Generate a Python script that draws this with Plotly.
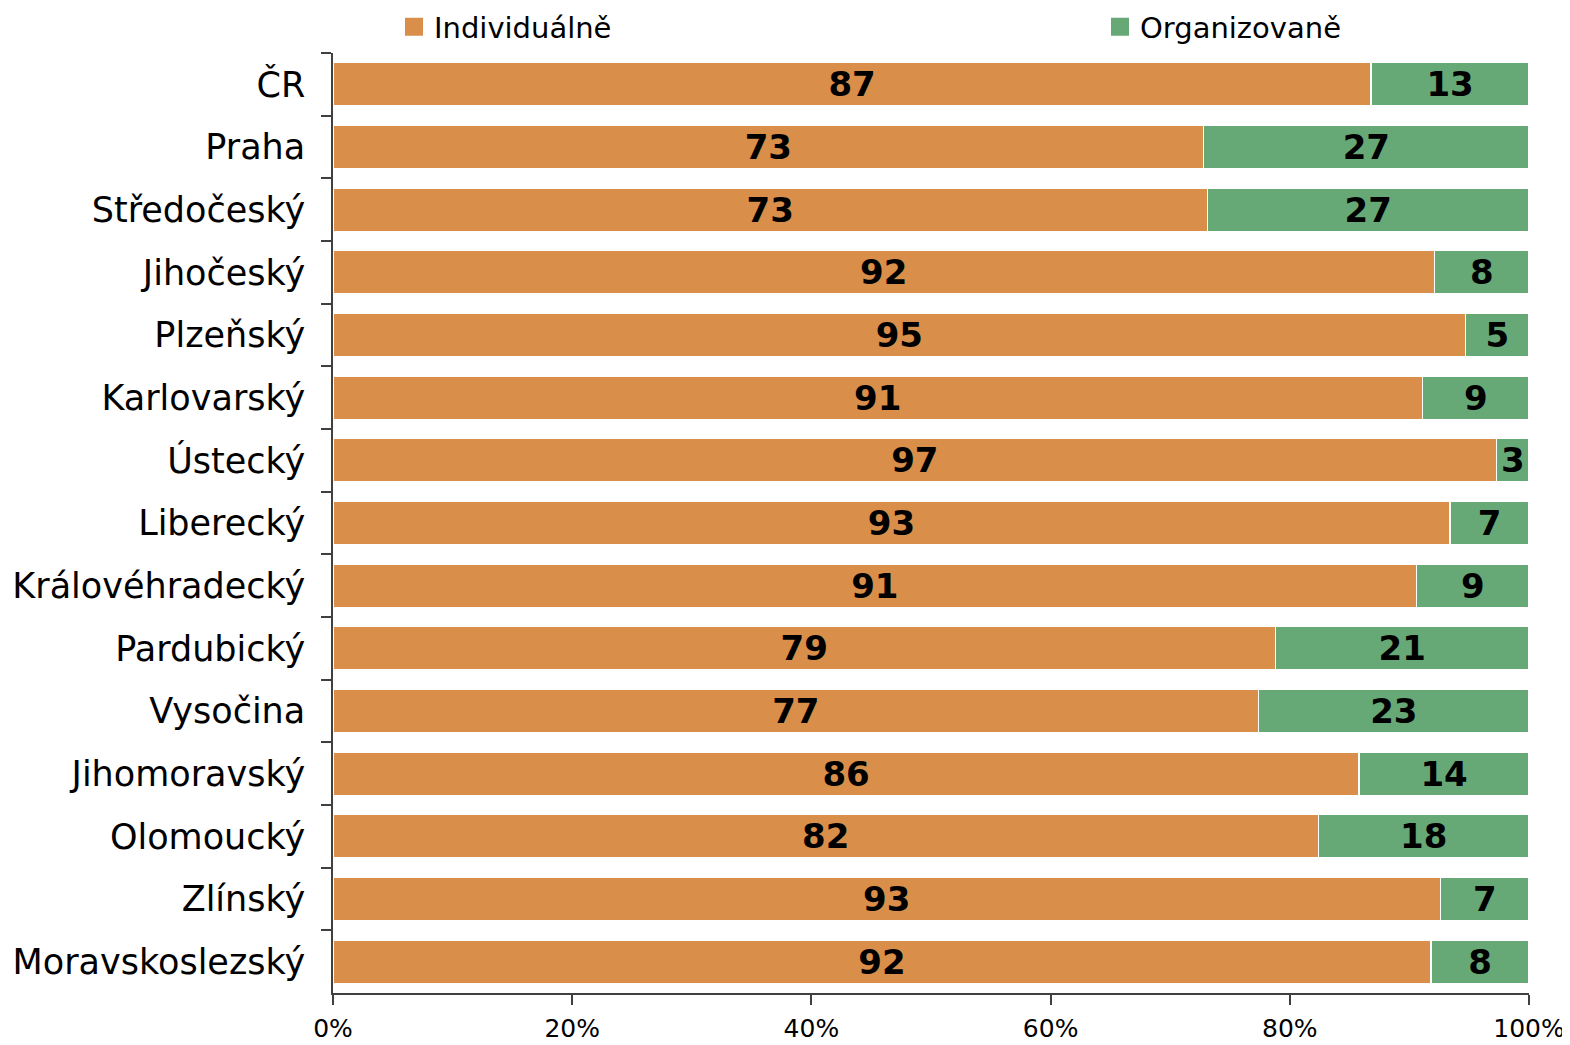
import plotly.graph_objects as go

regions = ["ČR", "Praha", "Středočeský", "Jihočeský", "Plzeňský", "Karlovarský", "Ústecký",
           "Liberecký", "Královéhradecký", "Pardubický", "Vysočina", "Jihomoravský",
           "Olomoucký", "Zlínský", "Moravskoslezský"]
individualne = [86.8, 72.8, 73.1, 92.1, 94.7, 91.1, 97.3, 93.4, 90.6, 78.8, 77.4, 85.8, 82.4, 92.6, 91.8]
organizovane = [13.2, 27.2, 26.9, 7.9, 5.3, 8.9, 2.7, 6.6, 9.4, 21.2, 22.6, 14.2, 17.6, 7.4, 8.2]
x_ticks = [0, 20, 40, 60, 80, 100]
x_tick_labels = ["0%", "20%", "40%", "60%", "80%", "100%"]

C_IND = "#D98E4A"
C_ORG = "#67A877"
FONT = "DejaVu Sans"

W, H = 1562, 1037

fig = go.Figure()
series = [("Individuálně", individualne, C_IND, "legend"),
          ("Organizovaně", organizovane, C_ORG, "legend2")]
for name, vals, col, leg in series:
    fig.add_trace(go.Bar(
        y=regions, x=vals, orientation="h", name=name,
        marker=dict(color=col, line=dict(color="white", width=1.5)),
        text=[str(round(v)) for v in vals], textposition="inside",
        insidetextanchor="middle", constraintext="none", textangle=0,
        textfont=dict(family=FONT, size=34, color="black", weight="bold"),
        showlegend=False, hoverinfo="skip",
    ))
    fig.add_trace(go.Scatter(
        x=[None], y=[None], mode="markers", name=name, legend=leg,
        marker=dict(symbol="square", size=16, color=col, line=dict(color=col, width=2)),
    ))

leg_common = dict(orientation="h", xref="container", yref="container",
                  y=1 - 19 / H, xanchor="left", yanchor="middle", itemsizing="trace",
                  bgcolor="rgba(0,0,0,0)",
                  font=dict(family=FONT, size=29, color="black"))

fig.update_layout(
    width=W, height=H,
    barmode="stack", bargap=0.31,
    plot_bgcolor="white", paper_bgcolor="white",
    margin=dict(l=325, r=41, t=45, b=52, autoexpand=False),
    font=dict(family=FONT, color="black"),
    legend=dict(x=386 / W, **leg_common),
    legend2=dict(x=1092 / W, **leg_common),
    xaxis=dict(range=[0, 100], tickvals=x_ticks, ticktext=x_tick_labels,
               showgrid=False, zeroline=False, showline=True,
               linecolor="#404040", linewidth=1.5, automargin=False,
               ticks="outside", ticklen=10, tickcolor="#404040", tickwidth=1.5,
               ticklabelstandoff=2,
               tickfont=dict(family=FONT, size=25, color="black")),
    yaxis=dict(autorange="reversed", type="category", showgrid=False,
               showline=True, linecolor="#404040", linewidth=1.5, automargin=False,
               ticks="outside", ticklen=10, tickcolor="#404040", tickwidth=1.5,
               tickson="boundaries", ticklabelstandoff=19,
               tickfont=dict(family=FONT, size=35, color="black")),
)

fig.write_html("out.html")
